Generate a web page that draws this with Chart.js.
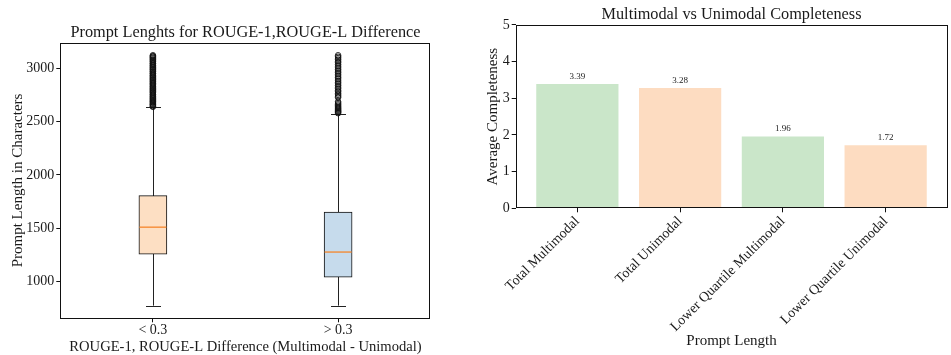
<!DOCTYPE html>
<html>
<head>
<meta charset="utf-8">
<script src="https://cdn.jsdelivr.net/npm/chart.js@4/dist/chart.umd.min.js"></script>
<style>
  html, body { margin: 0; padding: 0; background: #fff; }
  #wrap { position: relative; width: 951px; height: 355px; overflow: hidden; }
  #c1 { position: absolute; left: 0; top: 0; }
  #c2 { position: absolute; left: 470px; top: 0; }
</style>
</head>
<body>
<div id="wrap">
  <canvas id="c1" width="470" height="355"></canvas>
  <canvas id="c2" width="481" height="355"></canvas>
</div>
<script>
// ---------- Data: left panel (box plot) ----------
const boxCategories = ['< 0.3', '> 0.3'];
const boxMin    = [771, 771];
const boxQ1     = [1254, 1038];
const boxMedian = [1509, 1275];
const boxQ3     = [1805, 1650];
const boxMax    = [2635, 2572];
const outliersLow = [2641, 2647, 2656, 2663, 2669, 2678, 2686, 2692, 2701, 2709, 2719, 2726, 2736, 2743, 2753, 2760, 2771, 2779, 2786, 2796, 2803, 2813, 2820, 2831, 2837, 2848, 2856, 2863, 2873, 2880, 2891, 2897, 2908, 2914, 2925, 2933, 2940, 2951, 2957, 2968, 2974, 2985, 2993, 3000, 3011, 3017, 3028, 3034, 3045, 3051, 3062, 3069, 3079, 3086, 3096, 3103, 3111, 3118, 3125];
const outliersHigh = [2581, 2589, 2597, 2604, 2613, 2622, 2631, 2641, 2652, 2664, 2676, 2688, 2728, 2741, 2753, 2767, 2782, 2794, 2811, 2825, 2841, 2856, 2871, 2885, 2902, 2916, 2931, 2947, 2963, 2977, 2992, 3007, 3023, 3039, 3056, 3069, 3084, 3099, 3111, 3125];
const boxYTicks = [1000, 1500, 2000, 2500, 3000];

// ---------- Data: right panel (bar chart) ----------
const barCategories = ['Total Multimodal', 'Total Unimodal', 'Lower Quartile Multimodal', 'Lower Quartile Unimodal'];
const barValues = [3.39, 3.28, 1.96, 1.72];
const barYTicks = [0, 1, 2, 3, 4, 5];

// ---------- Styles ----------
const FONT = "'Liberation Serif', 'DejaVu Serif', serif";
const TXT = '#1a1a1a';
const boxFills = ['#fddfc3', '#c6dbec'];
const barFills = ['#cae6c9', '#fddcc1', '#cae6c9', '#fddcc1'];
const MEDIAN = '#f5862a';

const framePlugin = {
  id: 'frame',
  afterDatasetsDraw(chart) {
    const a = chart.chartArea, ctx = chart.ctx;
    ctx.save();
    ctx.strokeStyle = '#111';
    ctx.lineWidth = 1;
    ctx.strokeRect(Math.round(a.left) + 0.5, Math.round(a.top) + 0.5,
                   Math.round(a.right - a.left) - 1, Math.round(a.bottom - a.top) - 1);
    ctx.restore();
  }
};

const boxPlugin = {
  id: 'boxparts',
  beforeDatasetsDraw(chart) {
    const xs = chart.scales.x, ys = chart.scales.y, ctx = chart.ctx;
    ctx.save();
    ctx.strokeStyle = '#222';
    ctx.lineWidth = 1;
    boxCategories.forEach((c, i) => {
      const x = Math.round(xs.getPixelForValue(i + 1)) + 0.5;
      const yMin = ys.getPixelForValue(boxMin[i]);
      const yMax = ys.getPixelForValue(boxMax[i]);
      ctx.beginPath();
      ctx.moveTo(x, yMin); ctx.lineTo(x, yMax);
      ctx.moveTo(x - 7.5, Math.round(yMin) + 0.5); ctx.lineTo(x + 7.5, Math.round(yMin) + 0.5);
      ctx.moveTo(x - 7.5, Math.round(yMax) + 0.5); ctx.lineTo(x + 7.5, Math.round(yMax) + 0.5);
      ctx.stroke();
    });
    ctx.restore();
  },
  afterDatasetsDraw(chart) {
    const xs = chart.scales.x, ys = chart.scales.y, ctx = chart.ctx;
    const meta = chart.getDatasetMeta(0);
    ctx.save();
    ctx.strokeStyle = MEDIAN;
    ctx.lineWidth = 1.3;
    boxCategories.forEach((c, i) => {
      const el = meta.data[i];
      const half = el.width / 2;
      const x = xs.getPixelForValue(i + 1);
      const y = ys.getPixelForValue(boxMedian[i]);
      ctx.beginPath();
      ctx.moveTo(x - half + 0.5, y); ctx.lineTo(x + half - 0.5, y);
      ctx.stroke();
    });
    ctx.restore();
  }
};

new Chart(document.getElementById('c1'), {
  data: {
    datasets: [
      {
        type: 'bar',
        data: boxCategories.map((c, i) => ({ x: i + 1, y: [boxQ1[i], boxQ3[i]] })),
        backgroundColor: boxFills,
        borderColor: '#111',
        borderWidth: 1,
        borderSkipped: false,
        barThickness: 28,
        order: 2
      },
      {
        type: 'scatter',
        data: outliersLow.map(v => ({ x: 1, y: v })),
        pointStyle: 'circle', pointRadius: 2.8,
        backgroundColor: 'rgba(0,0,0,0)', borderColor: '#111', borderWidth: 0.9,
        order: 1
      },
      {
        type: 'scatter',
        data: outliersHigh.map(v => ({ x: 2, y: v })),
        pointStyle: 'circle', pointRadius: 2.8,
        backgroundColor: 'rgba(0,0,0,0)', borderColor: '#111', borderWidth: 0.9,
        order: 1
      }
    ]
  },
  options: {
    responsive: false, animation: false, devicePixelRatio: 1,
    layout: { padding: { left: 0, right: 39.3, top: 0, bottom: 0 } },
    plugins: {
      legend: { display: false }, tooltip: { enabled: false },
      title: {
        display: true, fullSize: false,
        text: 'Prompt Lenghts for ROUGE-1,ROUGE-L Difference',
        color: TXT, font: { family: FONT, size: 16.3, weight: 'normal', lineHeight: 1.2 },
        padding: { top: 22.5, bottom: 0.6 }
      }
    },
    scales: {
      x: {
        type: 'linear', min: 0.5, max: 2.5, offset: false,
        afterBuildTicks: s => { s.ticks = boxCategories.map((c, i) => ({ value: i + 1 })); },
        afterFit: s => { s.height = 36.7; },
        ticks: {
          callback: (v) => boxCategories[v - 1],
          color: TXT, font: { family: FONT, size: 14, lineHeight: 1 }, padding: 1, maxRotation: 0
        },
        grid: { offset: false, drawOnChartArea: false, drawTicks: true, tickLength: 4, color: '#111', lineWidth: 1 },
        border: { display: false },
        title: {
          display: true, text: 'ROUGE-1, ROUGE-L Difference (Multimodal - Unimodal)',
          color: TXT, font: { family: FONT, size: 14.6, lineHeight: 1 }, padding: { top: 0, bottom: 1 }
        }
      },
      y: {
        type: 'linear', min: 652, max: 3244,
        afterBuildTicks: s => { s.ticks = boxYTicks.map(v => ({ value: v })); },
        afterFit: s => { s.width = 60.3; },
        ticks: { callback: v => String(v), color: TXT, font: { family: FONT, size: 14 }, padding: 2 },
        grid: { offset: false, drawOnChartArea: false, drawTicks: true, tickLength: 4, color: '#111', lineWidth: 1 },
        border: { display: false },
        title: {
          display: true, text: 'Prompt Length in Characters',
          color: TXT, font: { family: FONT, size: 15, lineHeight: 1 }, padding: { top: 10.5, bottom: 0 }
        }
      }
    }
  },
  plugins: [boxPlugin, framePlugin]
});

const valueLabelPlugin = {
  id: 'valueLabels',
  afterDatasetsDraw(chart) {
    const ctx = chart.ctx, meta = chart.getDatasetMeta(0);
    ctx.save();
    ctx.fillStyle = TXT;
    ctx.font = "9px " + FONT;
    ctx.textAlign = 'center';
    ctx.textBaseline = 'bottom';
    meta.data.forEach((el, i) => {
      ctx.fillText(barValues[i].toFixed(2), el.x, el.y - 3);
    });
    ctx.restore();
  }
};

new Chart(document.getElementById('c2'), {
  type: 'bar',
  data: {
    datasets: [{
      data: barCategories.map((c, i) => ({ x: i, y: barValues[i] })),
      backgroundColor: barFills,
      borderWidth: 0,
      categoryPercentage: 0.8,
      barPercentage: 1.0
    }]
  },
  options: {
    responsive: false, animation: false, devicePixelRatio: 1,
    layout: { padding: { left: 0, right: 3.7, top: 0, bottom: 0 } },
    plugins: {
      legend: { display: false }, tooltip: { enabled: false },
      title: {
        display: true, fullSize: false,
        text: 'Multimodal vs Unimodal Completeness',
        color: TXT, font: { family: FONT, size: 16.3, weight: 'normal', lineHeight: 1.2 },
        padding: { top: 5.2, bottom: 0.2 }
      }
    },
    scales: {
      x: {
        type: 'linear', min: -0.6, max: 3.6, offset: false,
        afterBuildTicks: s => { s.ticks = barCategories.map((c, i) => ({ value: i })); },
        afterFit: s => { s.height = 146.7; },
        ticks: {
          callback: (v) => barCategories[v],
          color: TXT, font: { family: FONT, size: 14, lineHeight: 1.2 }, padding: 1,
          minRotation: 45, maxRotation: 45, autoSkip: false
        },
        grid: { offset: false, drawOnChartArea: false, drawTicks: true, tickLength: 4, color: '#111', lineWidth: 1 },
        border: { display: false },
        title: {
          display: true, text: 'Prompt Length',
          color: TXT, font: { family: FONT, size: 15, lineHeight: 1.2 }, padding: { top: 0, bottom: 5.3 }
        }
      },
      y: {
        type: 'linear', min: 0, max: 5,
        afterBuildTicks: s => { s.ticks = barYTicks.map(v => ({ value: v })); },
        afterFit: s => { s.width = 45.7; },
        ticks: { callback: v => String(v), color: TXT, font: { family: FONT, size: 14 }, padding: 2 },
        grid: { offset: false, drawOnChartArea: false, drawTicks: true, tickLength: 4, color: '#111', lineWidth: 1 },
        border: { display: false },
        title: {
          display: true, text: 'Average Completeness',
          color: TXT, font: { family: FONT, size: 15, lineHeight: 1.2 }, padding: { top: 14, bottom: 0 }
        }
      }
    }
  },
  plugins: [valueLabelPlugin, framePlugin]
});
</script>
</body>
</html>
